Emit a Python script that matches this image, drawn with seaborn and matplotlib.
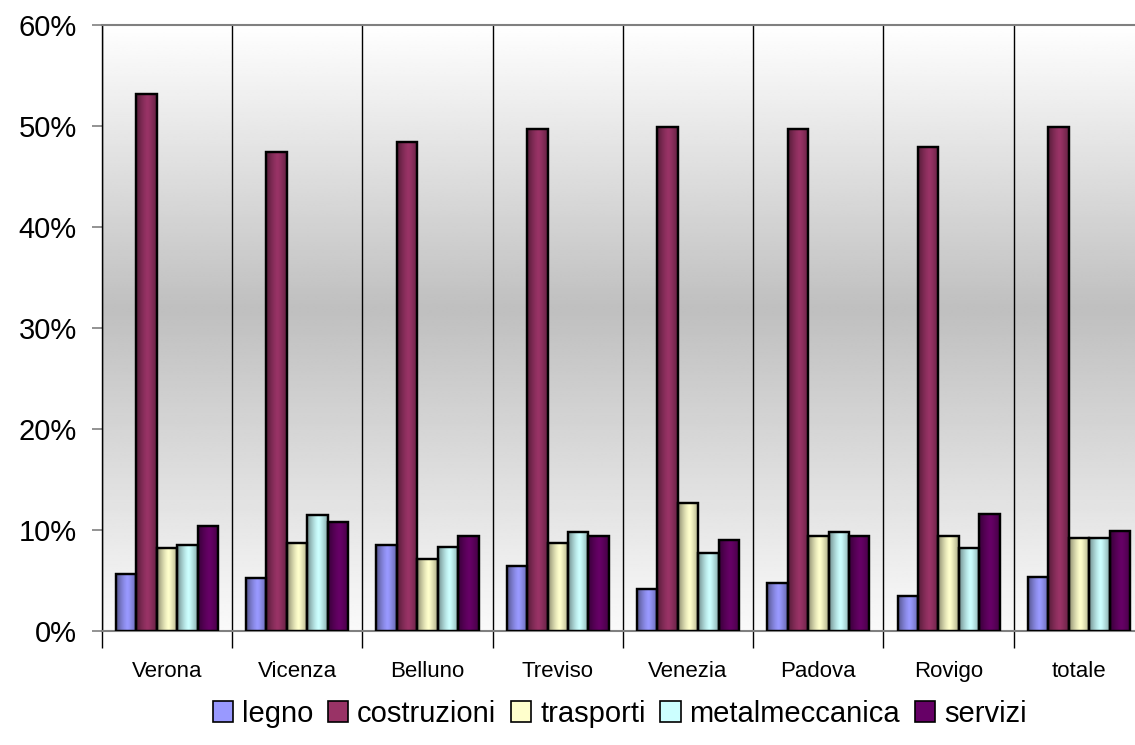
import numpy as np
import pandas as pd
import matplotlib
matplotlib.use("Agg")
import matplotlib.pyplot as plt
from matplotlib.ticker import PercentFormatter, FixedLocator
from matplotlib.patches import Patch
import seaborn as sns

# --- data (share of each sector per province) ---
province = ["Verona", "Vicenza", "Belluno", "Treviso", "Venezia", "Padova", "Rovigo", "totale"]
settori = ["legno", "costruzioni", "trasporti", "metalmeccanica", "servizi"]

legno = [0.056, 0.052, 0.085, 0.064, 0.041, 0.047, 0.034, 0.053]
costruzioni = [0.531, 0.474, 0.484, 0.497, 0.499, 0.497, 0.479, 0.499]
trasporti = [0.082, 0.087, 0.071, 0.087, 0.126, 0.094, 0.094, 0.092]
metalmeccanica = [0.085, 0.115, 0.083, 0.098, 0.077, 0.098, 0.082, 0.092]
servizi = [0.104, 0.108, 0.094, 0.094, 0.090, 0.094, 0.116, 0.099]

colori = ["#9999FF", "#993366", "#FFFFCC", "#CCFFFF", "#660066"]

series = dict(zip(settori, [legno, costruzioni, trasporti, metalmeccanica, servizi]))
df = pd.DataFrame([
    {"provincia": p, "settore": s, "quota": series[s][i]}
    for s in settori for i, p in enumerate(province)
])

# --- figure ---
sns.set_style("white")
plt.rcParams["font.family"] = ["Liberation Sans", "DejaVu Sans"]
plt.rcParams["text.color"] = "black"
plt.rcParams["xtick.color"] = "black"
plt.rcParams["ytick.color"] = "black"

fig = plt.figure(figsize=(11.35, 7.45), dpi=100)
ax = fig.add_axes([101.7 / 1135, 1 - 630.7 / 745, 8 * 130.3 / 1135, 606 / 745])

sns.barplot(data=df, x="provincia", y="quota", hue="settore", order=province,
            hue_order=settori, palette=colori, saturation=1, width=0.785, gap=0,
            edgecolor="black", linewidth=1.6, ax=ax, zorder=3)

# background: white -> gray -> white vertical gradient
yy = np.linspace(0, 1, 300)
shade = np.where(yy < 0.53, 0.98 - (0.98 - 0.75) * yy / 0.53,
                 0.75 + (1.0 - 0.75) * (yy - 0.53) / 0.47)
bg = np.repeat(shade[:, None], 2, axis=1)
ax.imshow(bg, extent=[-0.5, 7.5, 0, 0.6], origin="lower", cmap="gray",
          vmin=0, vmax=1, aspect="auto", zorder=0, interpolation="bilinear")

# cylinder-like shading on each bar
tt = np.linspace(0, 1, 64)
alpha = 0.45 * (np.abs(tt - 0.55) / 0.55) ** 1.3
over = np.zeros((1, 64, 4))
over[0, :, 3] = alpha
for bar in list(ax.patches):
    if bar.get_height() <= 0:
        continue
    x0, w, h = bar.get_x(), bar.get_width(), bar.get_height()
    im = ax.imshow(over, extent=[x0, x0 + w, 0, h], aspect="auto", zorder=3.5,
                   interpolation="bilinear")
    im.set_clip_path(bar)
    # redraw outline on top
    ax.add_patch(plt.Rectangle((x0, 0), w, h, fill=False, edgecolor="black",
                               linewidth=1.6, zorder=4))

ax.set_xlim(-0.5, 7.5)
ax.set_ylim(0, 0.6)
ax.yaxis.set_major_locator(FixedLocator(np.arange(0, 0.61, 0.1)))
ax.yaxis.set_major_formatter(PercentFormatter(1.0, decimals=0))

# separators between provinces
ax.xaxis.set_minor_locator(FixedLocator(np.arange(-0.5, 7.6, 1.0)))
ax.grid(which="minor", axis="x", color="black", linewidth=1.0, zorder=1)
ax.grid(which="major", visible=False)
ax.tick_params(axis="x", which="minor", length=12, width=1.0, color="black", bottom=True)
ax.tick_params(axis="x", which="major", length=0, pad=22, labelsize=16)
ax.tick_params(axis="y", which="major", length=7, width=1.2, color="#808080",
               left=True, pad=11, labelsize=21)

ax.set_xlabel("")
ax.set_ylabel("")
for side in ["top", "bottom"]:
    ax.spines[side].set_color("#808080")
    ax.spines[side].set_linewidth(1.5)
ax.spines["left"].set_color("black")
ax.spines["left"].set_linewidth(1.0)
ax.spines["right"].set_visible(False)

ax.get_legend().remove()
handles = [Patch(facecolor=c, edgecolor="black", linewidth=1.2) for c in colori]
fig.legend(handles, settori, loc="center", bbox_to_anchor=(0.546, 0.042), ncol=5,
           frameon=False, fontsize=21, handlelength=0.7, handleheight=0.7,
           handletextpad=0.3, columnspacing=0.5, borderaxespad=0)

fig.savefig("out.png", dpi=100)
